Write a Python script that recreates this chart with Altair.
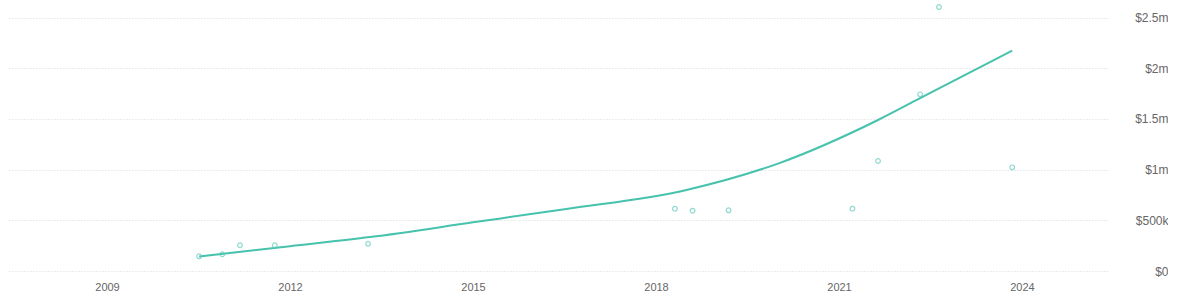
import altair as alt
import pandas as pd

# Observed deals (fractional year, amount in USD)
years = [2010.51, 2010.89, 2011.18, 2011.75, 2013.28, 2018.31, 2018.60, 2019.19,
         2021.22, 2021.64, 2022.33, 2022.64, 2023.84]
values = [145000, 165000, 254000, 254000, 269000, 615000, 595000, 599000,
          615000, 1085000, 1743000, 2605000, 1023000]

# Trend line
trend_years = [2010.51, 2012.0, 2013.31, 2015.0, 2016.5, 2018.5, 2020.0, 2021.64, 2022.33, 2023.84]
trend_values = [143000, 245000, 335000, 480000, 610000, 800000, 1060000, 1490000, 1705000, 2174000]

x_ticks = [2009, 2012, 2015, 2018, 2021, 2024]
y_ticks = [0, 500000, 1000000, 1500000, 2000000, 2500000]

df = pd.DataFrame({"year": years, "value": values})
tdf = pd.DataFrame({"year": trend_years, "value": trend_values})

x = alt.X("year:Q", scale=alt.Scale(domain=[2007.377, 2025.41], nice=False, zero=False),
          axis=alt.Axis(values=x_ticks, format="d", grid=False, domain=False, ticks=False,
                        labelPadding=10, labelFontSize=11, labelColor="#666",
                        labelFont="Liberation Sans", title=None))
y = alt.Y("value:Q", scale=alt.Scale(domain=[0, 2674000], nice=False),
          axis=alt.Axis(orient="right", values=y_ticks, domain=False, ticks=False,
                        labelAlign="right", labelPadding=60, labelFontSize=12,
                        labelColor="#666", labelFont="Liberation Sans",
                        gridColor="#d9d9d9", gridDash=[1, 2], title=None,
                        labelExpr="datum.value == 0 ? '$0' : datum.value < 1000000 ? '$' + format(datum.value/1000, 'd') + 'k' : '$' + format(datum.value/1000000, '~g') + 'm'"))

trend = alt.Chart(tdf).mark_line(color="#46c2ad", strokeWidth=2, interpolate="monotone").encode(x=x, y=y)
pts = alt.Chart(df).mark_point(shape="circle", filled=False, size=22, strokeWidth=1.2,
                               color="#62cbbb").encode(x=x, y=y)

chart = alt.layer(trend, pts).properties(
    width=1100, height=271,
    padding={"left": 8, "top": 0, "right": 0, "bottom": 0},
).configure_view(stroke=None)

chart.save("out.html", embed_options={"renderer": "svg", "actions": False})
